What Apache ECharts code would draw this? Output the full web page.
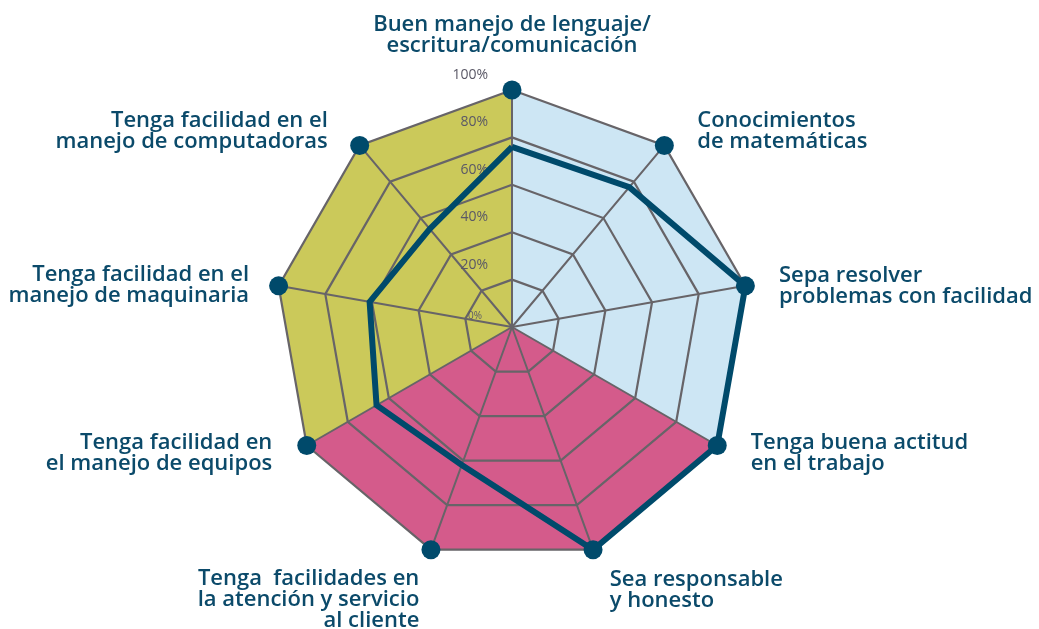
<!DOCTYPE html>
<html>
<head>
<meta charset="utf-8">
<script src="https://cdn.jsdelivr.net/npm/echarts@6/dist/echarts.min.js"></script>
<style>
  html, body { margin: 0; padding: 0; background: #fff; }
  #radar { width: 1039px; height: 629px; }
</style>
</head>
<body>
<div id="radar"></div>
<script>
// indicators in ECharts order (top first, then counter-clockwise)
var skills = [
    'Buen manejo de lenguaje/\nescritura/comunicación',
    'Tenga facilidad en el\nmanejo de computadoras',
    'Tenga facilidad en el\nmanejo de maquinaria',
    'Tenga facilidad en\nel manejo de equipos',
    'Tenga  facilidades en\nla atención y servicio\nal cliente',
    'Sea responsable\ny honesto',
    'Tenga buena actitud\nen el trabajo',
    'Sepa resolver\nproblemas con facilidad',
    'Conocimientos\nde matemáticas'
];
var scores = [76, 54, 61, 66, 62, 100, 100, 100, 77];
var maxValues = [100, 100, 100, 100, 100, 100, 100, 100, 100];
// background sectors
var sectorBlue = [100, 0, 0, 0, 0, 0, 100, 100, 100];
var sectorPink = [0, 0, 0, 100, 100, 100, 100, 0, 0];
var sectorOlive = [100, 100, 100, 100, 0, 0, 0, 0, 0];

// label nudges: horizontal padding [top, right, bottom, left] and vertical shift
var namePadding = [
    [0, 0, 0, 0],
    [0, 10, 0, 0],
    [0, 0, 0, 0],
    [0, 5, 0, 0],
    [0, 0, 0, 0],
    [0, 0, 0, 5],
    [0, 0, 0, 4],
    [0, 0, 0, 0],
    [0, 0, 0, 11]
];
var nameShiftY = [0, 12, 5, -9, 18, 9, -9, 6, 12];

var textColor = '#0b4a6a';
var lineColor = '#004a6b';
var gridColor = '#676468';

let chart = echarts.init(document.getElementById('radar'));

let nameRich = {};
nameShiftY.forEach(function (dy, i) {
    nameRich['sp' + i] = { fontSize: 1, lineHeight: Math.max(1, Math.abs(dy) * 2), height: Math.max(1, Math.abs(dy) * 2) };
});

let indicators = skills.map(function (name, i) {
    let ind = {
        name: name,
        max: 100,
        min: 0,
        nameTextStyle: { padding: namePadding[i] },
        axisName: { padding: namePadding[i] }
    };
    if (i === 2) {
        ind.nameGap = 30;
    }
    if (i === 0) {
        // tick labels only on the top axis
        ind.axisLabel = {
            show: true,
            color: '#5a5866',
            fontFamily: 'Open Sans',
            fontSize: 14,
            margin: 24,
            padding: [0, 0, 30, 0],
            formatter: function (v) {
                return v === 0 ? '{s|0%}' : v + '%';
            },
            rich: {
                s: { fontSize: 10, color: '#5a5866', fontFamily: 'Open Sans', padding: [8, 6, 0, 0] }
            }
        };
    }
    return ind;
});

function sectorSeries(vals, color) {
    return {
        type: 'radar',
        z: 1,
        silent: true,
        symbol: 'none',
        lineStyle: { width: 0, opacity: 0 },
        areaStyle: { color: color, opacity: 1 },
        data: [{ value: vals }]
    };
}

let option = {
    backgroundColor: '#ffffff',
    animation: false,
    radar: {
        z: 3,
        center: [512, 327],
        radius: 237,
        shape: 'polygon',
        splitNumber: 5,
        nameGap: 34,
        indicator: indicators,
        axisName: {
            color: textColor,
            fontFamily: 'Open Sans',
            fontWeight: 600,
            fontSize: 22,
            lineHeight: 21,
            rich: nameRich,
            formatter: function (name) {
                let i = skills.indexOf(name);
                let dy = i < 0 ? 0 : nameShiftY[i];
                if (dy > 0) {
                    return '{sp' + i + '| }\n' + name;
                }
                if (dy < 0) {
                    return name + '\n{sp' + i + '| }';
                }
                return name;
            }
        },
        axisLabel: { show: false },
        axisTick: { show: false },
        axisLine: { lineStyle: { color: gridColor, width: 2 } },
        splitLine: { lineStyle: { color: gridColor, width: 2.2 } },
        splitArea: { show: false }
    },
    series: [
        sectorSeries(sectorBlue, '#cde6f4'),
        sectorSeries(sectorPink, '#d45b8b'),
        sectorSeries(sectorOlive, '#cbc95a'),
        {
            type: 'radar',
            z: 4,
            symbol: 'none',
            lineStyle: { color: lineColor, width: 6, join: 'miter' },
            data: [{ value: scores }]
        },
        {
            type: 'radar',
            z: 5,
            symbol: 'circle',
            symbolSize: 19,
            itemStyle: { color: lineColor },
            lineStyle: { width: 0, opacity: 0 },
            data: [{ value: maxValues }]
        }
    ]
};

chart.setOption(option);
</script>
</body>
</html>
